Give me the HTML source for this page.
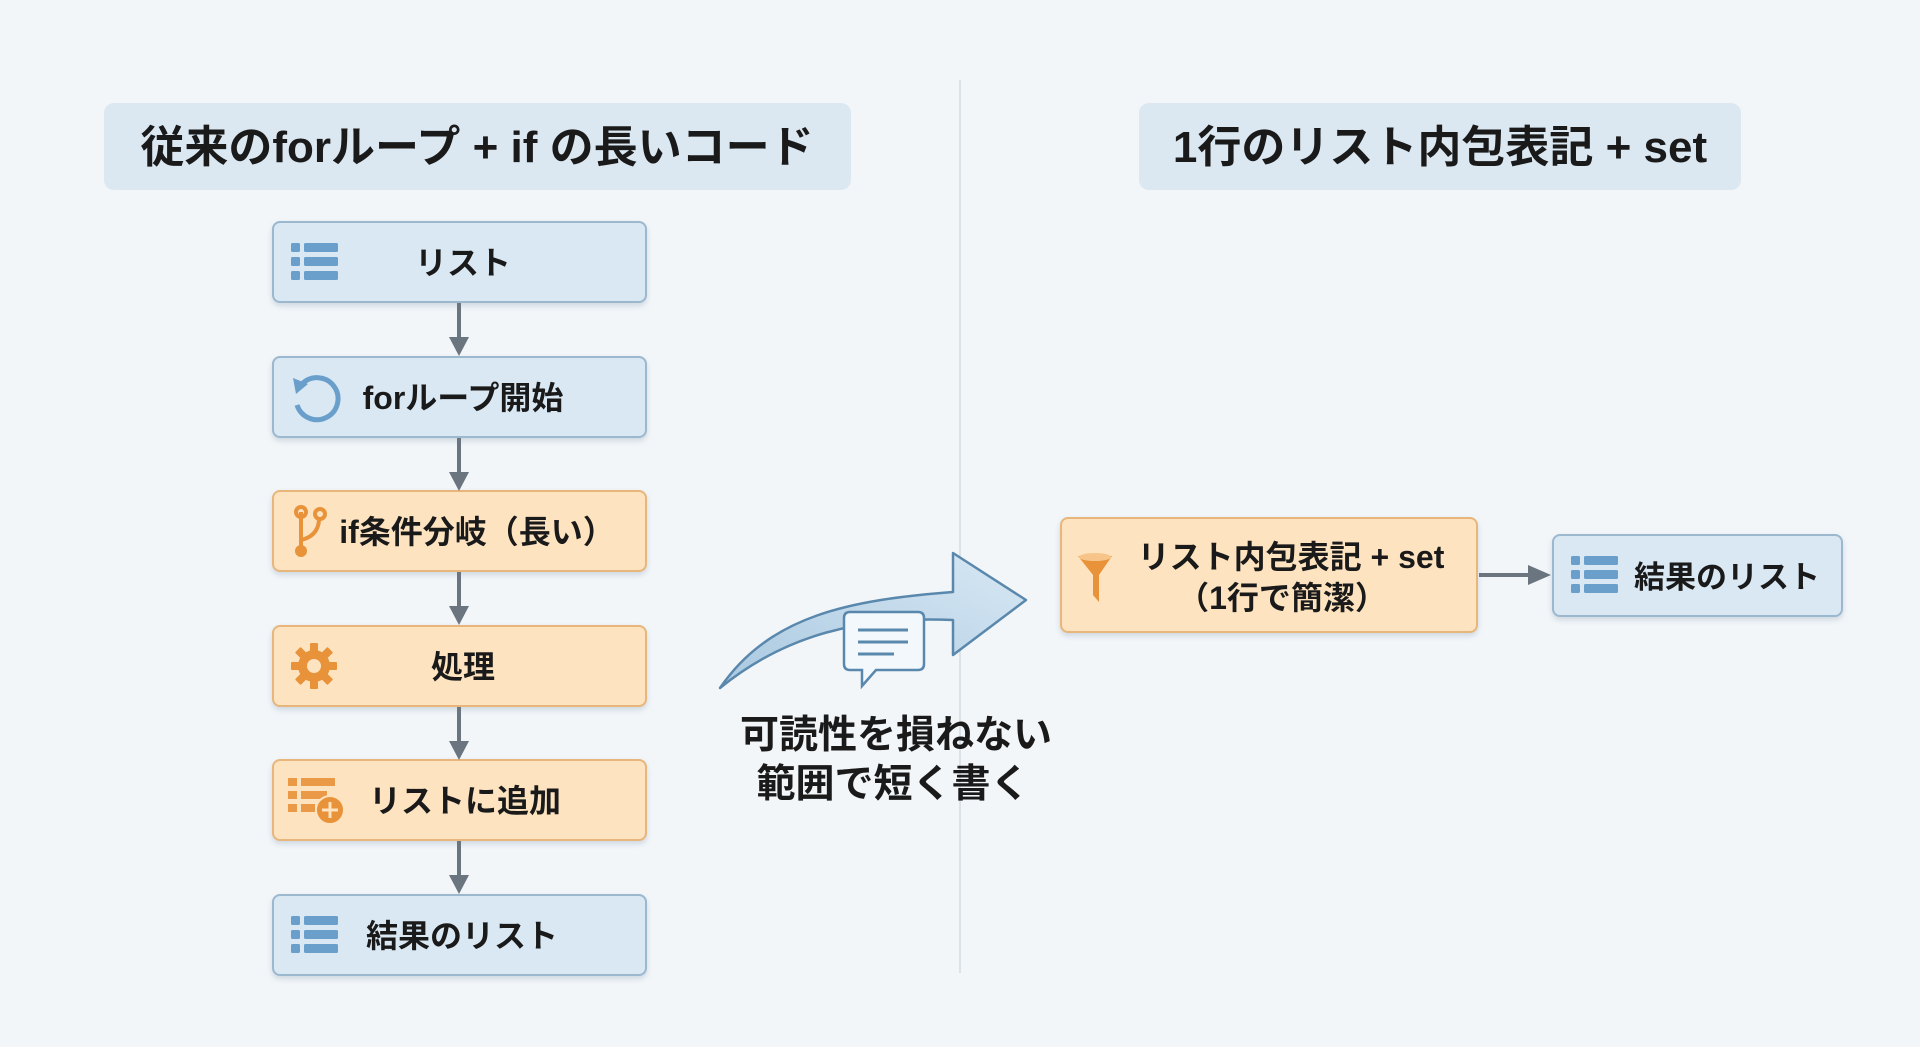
<!DOCTYPE html>
<html><head><meta charset="utf-8"><style>
html,body{margin:0;padding:0;width:1920px;height:1047px;overflow:hidden;background:#f1f5f8;}
svg{display:block}
text{font-family:"Liberation Sans","Noto Sans CJK JP",sans-serif;font-weight:bold;fill:#1a1a1a;}
</style></head><body>
<svg width="1920" height="1047" viewBox="0 0 1920 1047" xmlns="http://www.w3.org/2000/svg">
<defs>
<filter id="sh" x="-10%" y="-20%" width="120%" height="150%"><feDropShadow dx="0" dy="3" stdDeviation="3" flood-color="#8aa0b4" flood-opacity="0.35"/></filter>
<linearGradient id="ag" x1="0" y1="1" x2="1" y2="0"><stop offset="0" stop-color="#a9c8e0"/><stop offset="1" stop-color="#d8e8f4"/></linearGradient>
<g id="listb"><rect x="0" y="0" width="9" height="9" rx="1.5"/><rect x="13" y="0" width="34" height="9" rx="1.5"/><rect x="0" y="14" width="9" height="9" rx="1.5"/><rect x="13" y="14" width="34" height="9" rx="1.5"/><rect x="0" y="28" width="9" height="9" rx="1.5"/><rect x="13" y="28" width="34" height="9" rx="1.5"/></g>
</defs>
<rect width="1920" height="1047" fill="#f2f6f9"/>
<line x1="960" y1="80" x2="960" y2="973" stroke="#d3dbe2" stroke-width="1.5"/>
<rect x="104" y="103" width="747" height="87" rx="10" fill="#dbe8f2"/>
<text x="477" y="162" font-size="44" text-anchor="middle">従来のforループ + if の長いコード</text>
<rect x="1139" y="103" width="602" height="87" rx="10" fill="#dbe8f2"/>
<text x="1440" y="162" font-size="44" text-anchor="middle">1行のリスト内包表記 + set</text>
<g filter="url(#sh)">
<rect x="273" y="222" width="373" height="80" rx="7" fill="#d9e8f3" stroke="#9cb8cf" stroke-width="2"/>
<rect x="273" y="357" width="373" height="80" rx="7" fill="#d9e8f3" stroke="#9cb8cf" stroke-width="2"/>
<rect x="273" y="491" width="373" height="80" rx="7" fill="#fde3c0" stroke="#e8b67a" stroke-width="2"/>
<rect x="273" y="626" width="373" height="80" rx="7" fill="#fde3c0" stroke="#e8b67a" stroke-width="2"/>
<rect x="273" y="760" width="373" height="80" rx="7" fill="#fde3c0" stroke="#e8b67a" stroke-width="2"/>
<rect x="273" y="895" width="373" height="80" rx="7" fill="#d9e8f3" stroke="#9cb8cf" stroke-width="2"/>
<rect x="1061" y="518" width="416" height="114" rx="7" fill="#fde3c0" stroke="#e8b67a" stroke-width="2"/>
<rect x="1553" y="535" width="289" height="81" rx="7" fill="#d9e8f3" stroke="#9cb8cf" stroke-width="2"/>
</g>
<g stroke="#6b7580" stroke-width="4" fill="#6b7580">
<line x1="459" y1="303" x2="459" y2="340"/><line x1="459" y1="438" x2="459" y2="474"/><line x1="459" y1="572" x2="459" y2="609"/><line x1="459" y1="707" x2="459" y2="743"/><line x1="459" y1="841" x2="459" y2="878"/>
<line x1="1479" y1="575" x2="1530" y2="575"/>
</g>
<g fill="#6b7580">
<polygon points="449,337 469,337 459,356"/><polygon points="449,472 469,472 459,491"/><polygon points="449,606 469,606 459,625"/><polygon points="449,741 469,741 459,760"/><polygon points="449,875 469,875 459,894"/>
<polygon points="1528,565 1528,585 1551,575"/>
</g>
<g fill="#6a9fcb"><use href="#listb" x="291" y="243"/><use href="#listb" x="291" y="916"/><use href="#listb" x="1571" y="556"/></g>
<path d="M302,384 A21,21 0 1 1 297,405" fill="none" stroke="#6a9fcb" stroke-width="5"/>
<polygon points="293,378 308,384 296,394" fill="#6a9fcb"/>
<g stroke="#e8923a" stroke-width="4" fill="none"><line x1="301" y1="512" x2="301" y2="548"/><path d="M301,540 Q318,536 319,520"/><circle cx="301" cy="512" r="5"/><circle cx="320" cy="514" r="5"/></g>
<circle cx="301" cy="551" r="6" fill="#e8923a"/>
<g transform="translate(314,666)" fill="#e8923a"><circle r="16"/><g><rect x="-4" y="-23" width="8" height="46" rx="1"/><rect x="-4" y="-23" width="8" height="46" rx="1" transform="rotate(45)"/><rect x="-4" y="-23" width="8" height="46" rx="1" transform="rotate(90)"/><rect x="-4" y="-23" width="8" height="46" rx="1" transform="rotate(135)"/></g><circle r="7" fill="#fde3c0"/></g>
<g fill="#e8923a" opacity="0.9"><rect x="288" y="778" width="9" height="8"/><rect x="301" y="778" width="34" height="8"/><rect x="288" y="791" width="9" height="8"/><rect x="301" y="791" width="26" height="8"/><rect x="288" y="804" width="9" height="8"/><rect x="301" y="804" width="14" height="8"/></g>
<circle cx="330" cy="810" r="14" fill="#e8923a" stroke="#fde3c0" stroke-width="2"/>
<path d="M330,802 V818 M322,810 H338" stroke="#fde3c0" stroke-width="3"/>
<path d="M1078,556 L1112,556 L1099,575 L1099,602 L1093,595 L1093,575 Z" fill="#e8923a"/>
<ellipse cx="1095" cy="557" rx="16" ry="4" fill="#f7c58a"/>
<g font-size="32">
<text x="463" y="274" text-anchor="middle">リスト</text>
<text x="463" y="409" text-anchor="middle">forループ開始</text>
<text x="477" y="543" text-anchor="middle">if条件分岐（長い）</text>
<text x="463" y="678" text-anchor="middle">処理</text>
<text x="465" y="812" text-anchor="middle">リストに追加</text>
<text x="462" y="947" text-anchor="middle">結果のリスト</text>
<text x="1291" y="568" text-anchor="middle">リスト内包表記 + set</text>
<text x="1282" y="609" text-anchor="middle">（1行で簡潔）</text>
<text x="1727" y="588" text-anchor="middle" font-size="31">結果のリスト</text>
</g>
<path d="M720,688 C770,615 850,600 953,592 L953,553 L1026,600 L953,655 L953,620 C860,616 785,635 720,688 Z" fill="url(#ag)" stroke="#5a88ad" stroke-width="2.5" stroke-linejoin="round"/>
<path d="M850,612 H918 Q924,612 924,618 V664 Q924,670 918,670 H876 L862,686 L862,670 H850 Q844,670 844,664 V618 Q844,612 850,612 Z" fill="#f3f8fc" stroke="#5a88ad" stroke-width="2.5"/>
<g stroke="#5a88ad" stroke-width="3"><line x1="858" y1="630" x2="908" y2="630"/><line x1="858" y1="642" x2="908" y2="642"/><line x1="858" y1="654" x2="894" y2="654"/></g>
<text x="896" y="748" font-size="39" text-anchor="middle">可読性を損ねない</text>
<text x="893" y="797" font-size="39" text-anchor="middle">範囲で短く書く</text>
</svg>
</body></html>
